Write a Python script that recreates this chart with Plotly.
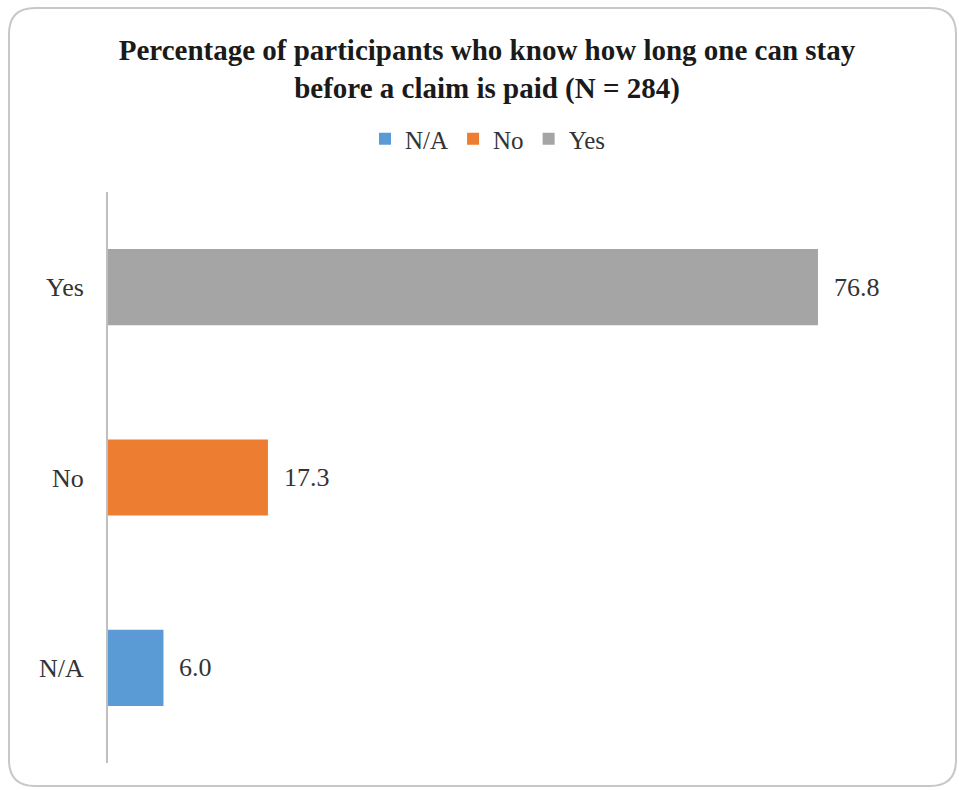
import plotly.graph_objects as go

# Survey responses (percent of N = 284)
categories = ["N/A", "No", "Yes"]
values = [6.0, 17.3, 76.8]
colors = ["#5b9bd5", "#ed7d31", "#a5a5a5"]
value_labels = ["6.0", "17.3", "76.8"]

W, H = 959, 790
M_L, M_R, M_T, M_B = 108, 19, 192, 27
plot_w = W - M_L - M_R
plot_h = H - M_T - M_B

SERIF = "Liberation Serif"


def px_x(px):
    return (px - M_L) / plot_w


def px_y(py):
    return (H - M_B - py) / plot_h


def rounded_rect(x0, y0, x1, y1, r):
    # outline of the chart frame, built in pixel terms and mapped to paper units
    pts = [
        f"M {px_x(x0 + r)} {px_y(y0)}",
        f"L {px_x(x1 - r)} {px_y(y0)}",
        f"Q {px_x(x1)} {px_y(y0)} {px_x(x1)} {px_y(y0 + r)}",
        f"L {px_x(x1)} {px_y(y1 - r)}",
        f"Q {px_x(x1)} {px_y(y1)} {px_x(x1 - r)} {px_y(y1)}",
        f"L {px_x(x0 + r)} {px_y(y1)}",
        f"Q {px_x(x0)} {px_y(y1)} {px_x(x0)} {px_y(y1 - r)}",
        f"L {px_x(x0)} {px_y(y0 + r)}",
        f"Q {px_x(x0)} {px_y(y0)} {px_x(x0 + r)} {px_y(y0)}",
        "Z",
    ]
    return " ".join(pts)


fig = go.Figure()
for cat, val, col in zip(categories, values, colors):
    fig.add_trace(
        go.Bar(
            x=[val],
            y=[cat],
            name=cat,
            orientation="h",
            marker=dict(color=col, line=dict(width=0)),
            width=0.4,
        )
    )

for cat, val, lab in zip(categories, values, value_labels):
    fig.add_annotation(
        x=val,
        y=cat,
        text=lab,
        showarrow=False,
        xanchor="left",
        xshift=14,
        font=dict(family=SERIF, size=26, color="#333333"),
    )

fig.add_shape(
    type="path",
    xref="paper",
    yref="paper",
    path=rounded_rect(9, 8, 956, 786, 26),
    line=dict(color="#c8c8c8", width=2),
    fillcolor="rgba(0,0,0,0)",
    layer="below",
)

fig.update_layout(
    width=W,
    height=H,
    margin=dict(l=M_L, r=M_R, t=M_T, b=M_B, pad=0),
    paper_bgcolor="white",
    plot_bgcolor="white",
    barmode="overlay",
    showlegend=True,
    title=dict(
        text="Percentage of participants who know how long one can stay<br>before a claim is paid (N = 284)",
        x=487 / W,
        xref="container",
        xanchor="center",
        y=1 - 60 / H,
        yref="container",
        yanchor="middle",
        font=dict(family=SERIF, size=29, color="#1a1a1a", weight="bold"),
    ),
    legend=dict(
        orientation="h",
        x=px_x(488),
        xanchor="center",
        y=px_y(139),
        yanchor="middle",
        font=dict(family=SERIF, size=25, color="#333333"),
        itemwidth=30,
        traceorder="normal",
    ),
    xaxis=dict(
        range=[0, 90],
        showgrid=False,
        zeroline=False,
        showticklabels=False,
        showline=False,
        ticks="",
        fixedrange=True,
    ),
    yaxis=dict(
        categoryorder="array",
        categoryarray=categories,
        showgrid=False,
        zeroline=False,
        showline=True,
        linecolor="#bfbfbf",
        linewidth=2,
        ticks="",
        ticklabelstandoff=17,
        tickfont=dict(family=SERIF, size=26, color="#333333"),
    ),
)

fig.write_html("out.html")
